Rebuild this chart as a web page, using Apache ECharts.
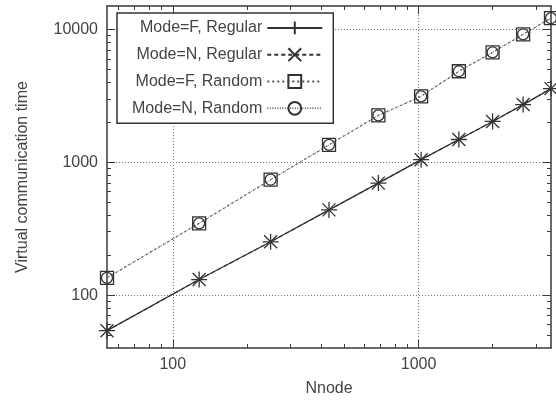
<!DOCTYPE html>
<html>
<head>
<meta charset="utf-8">
<script src="https://cdn.jsdelivr.net/npm/echarts@6/dist/echarts.min.js"></script>
<style>
html, body { margin: 0; padding: 0; background: #fff; }
#chart { width: 556px; height: 410px; }
</style>
</head>
<body>
<div id="chart"></div>
<script>
// Nnode values (x axis)
const nnode = [54, 128, 250, 432, 686, 1024, 1458, 2000, 2662, 3456]
// virtual communication time for each mode
const regularF = [54, 131, 252, 438, 697, 1046, 1483, 2028, 2718, 3584]
const regularN = [54, 131, 252, 438, 697, 1046, 1483, 2028, 2718, 3584]
const randomF = [135, 347, 739, 1352, 2252, 3135, 4843, 6714, 9187, 12140]
const randomN = [135, 347, 739, 1352, 2252, 3135, 4843, 6714, 9187, 12140]
const seriesNames = ['Mode=F, Regular', 'Mode=N, Regular', 'Mode=F, Random', 'Mode=N, Random']

// tick positions
const xMajor = [100, 1000]
const xMinor = [60, 70, 80, 90, 200, 300, 400, 500, 600, 700, 800, 900, 2000, 3000]
const yMajor = [100, 1000, 10000]
const yMinor = [50, 60, 70, 80, 90, 200, 300, 400, 500, 600, 700, 800, 900,
	2000, 3000, 4000, 5000, 6000, 7000, 8000, 9000]

const axisColor = '#3a3a3a'
const textColor = '#444'
const font = 'Liberation Sans'

function pairs(xs, ys) {
	return xs.map(function (x, i) { return [x, ys[i]] })
}

function makeAxis(pos, min, max, ticks, len, main) {
	const labelSide = pos === 'bottom' || pos === 'left'
	return {
		type: 'log',
		logBase: 10,
		min: min,
		max: max,
		position: pos,
		axisLine: { show: main, onZero: false, lineStyle: { color: axisColor, width: 1.5 } },
		axisTick: { show: true, inside: true, length: len, customValues: ticks, lineStyle: { color: axisColor, width: 1 } },
		axisLabel: {
			show: main && labelSide,
			customValues: ticks,
			margin: 9,
			fontSize: 16,
			fontFamily: font,
			color: textColor,
			formatter: function (v) { return String(Math.round(v)) }
		},
		splitLine: { show: false }
	}
}

const chart = echarts.init(document.getElementById('chart'))

const xMin = 54, xMax = 3456, yMin = 40, yMax = 15000

const xAxis = [
	makeAxis('bottom', xMin, xMax, xMajor, 8, true),
	makeAxis('top', xMin, xMax, xMajor, 8, true),
	makeAxis('bottom', xMin, xMax, xMinor, 4, false),
	makeAxis('top', xMin, xMax, xMinor, 4, false)
]
const yAxis = [
	makeAxis('left', yMin, yMax, yMajor, 8, true),
	makeAxis('right', yMin, yMax, yMajor, 8, true),
	makeAxis('left', yMin, yMax, yMinor, 4, false),
	makeAxis('right', yMin, yMax, yMinor, 4, false)
]
// grid lines + axis names on the main axes
xAxis[0].splitLine = { show: true, lineStyle: { color: '#777', width: 1, type: [1, 2] } }
xAxis[0].name = 'Nnode'
xAxis[0].nameLocation = 'middle'
xAxis[0].nameGap = 33
xAxis[0].nameTextStyle = { fontSize: 16, fontFamily: font, color: textColor }
yAxis[0].splitLine = { show: true, lineStyle: { color: '#777', width: 1, type: [1, 2] } }
yAxis[0].name = 'Virtual communication time'
yAxis[0].nameLocation = 'middle'
yAxis[0].nameGap = 76
yAxis[0].nameTextStyle = { fontSize: 16, fontFamily: font, color: textColor }

const plusPath = 'path://M5,0L5,10M0,5L10,5'
const crossPath = 'path://M0,0L10,10M10,0L0,10'

function lineSeries(name, ys, dash, symbol, size, color, width) {
	return {
		name: name,
		type: 'line',
		xAxisIndex: 0,
		yAxisIndex: 0,
		data: pairs(nnode, ys),
		symbol: symbol,
		symbolSize: size,
		showAllSymbol: true,
		lineStyle: { color: color, width: width, type: dash },
		itemStyle: { color: 'none', borderColor: '#333', borderWidth: 1.3 },
		emphasis: { disabled: true },
		animation: false
	}
}

const option = {
	animation: false,
	grid: { left: 107, right: 5, top: 6, bottom: 62, containLabel: false, outerBoundsMode: 'none' },
	legend: {
		orient: 'vertical',
		left: 117,
		top: 13,
		align: 'right',
		itemWidth: 55,
		itemHeight: 16,
		itemGap: 9,
		padding: [6, 10, 6, 15],
		borderColor: '#333',
		borderWidth: 1.5,
		backgroundColor: '#fff',
		selectedMode: false,
		textStyle: { fontSize: 16, fontFamily: font, color: textColor },
		data: seriesNames
	},
	xAxis: xAxis,
	yAxis: yAxis,
	series: [
		lineSeries(seriesNames[0], regularF, 'solid', plusPath, 16, '#333', 1.3),
		lineSeries(seriesNames[1], regularN, [4, 3], crossPath, 13, '#333', 1.2),
		lineSeries(seriesNames[2], randomF, [2, 3], 'rect', 13, '#555', 1.2),
		lineSeries(seriesNames[3], randomN, [1, 1.5], 'circle', 11, '#666', 1)
	]
}
chart.setOption(option)
</script>
</body>
</html>
